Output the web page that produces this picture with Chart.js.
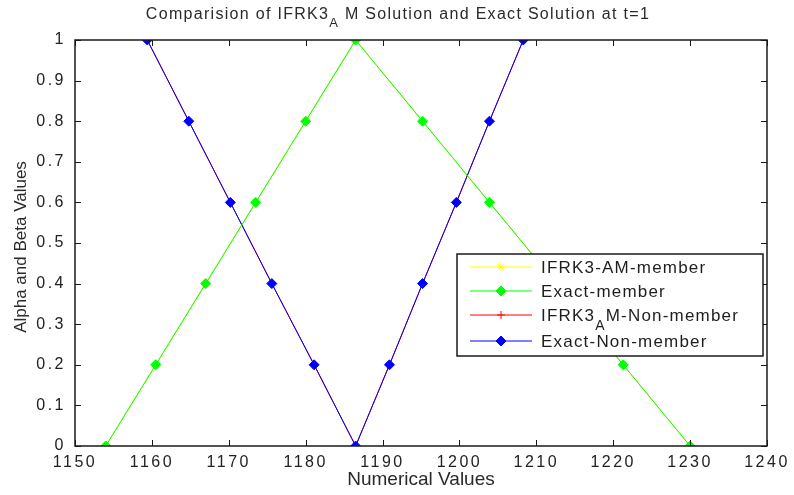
<!DOCTYPE html>
<html>
<head>
<meta charset="utf-8">
<script src="https://cdn.jsdelivr.net/npm/chart.js@4/dist/chart.umd.min.js"></script>
<style>
  html, body { margin: 0; padding: 0; background: #fff; }
</style>
</head>
<body>
<canvas id="chart" width="794" height="495"></canvas>
<script>
// text ('_X' marks a subscript X)
const titleText = 'Comparision of IFRK3_A M Solution and Exact Solution at t=1';
const xTitle = 'Numerical Values';
const yTitle = 'Alpha and Beta Values';
const seriesNames = ['IFRK3-AM-member', 'Exact-member', 'IFRK3_AM-Non-member', 'Exact-Non-member'];

// tick labels
const xTicks = [1150, 1160, 1170, 1180, 1190, 1200, 1210, 1220, 1230, 1240];
const yTicks = [0, 0.1, 0.2, 0.3, 0.4, 0.5, 0.6, 0.7, 0.8, 0.9, 1];

// member functions (IFRK3 results lie under the exact ones)
const memberX = [1154, 1160.5, 1167, 1173.5, 1180, 1186.5, 1195.2, 1203.9, 1212.6, 1221.3, 1230];
const memberY = [0, 0.2, 0.4, 0.6, 0.8, 1, 0.8, 0.6, 0.4, 0.2, 0];
const nonMemberX = [1159.4, 1164.8, 1170.2, 1175.6, 1181.1, 1186.5, 1190.9, 1195.2, 1199.6, 1203.9, 1208.3];
const nonMemberY = [1, 0.8, 0.6, 0.4, 0.2, 0, 0.2, 0.4, 0.6, 0.8, 1];

const seriesColors = ['#ffff00', '#00ff00', '#ff0000', '#0000ff'];
const seriesMarkers = ['star', 'rectRot', 'cross', 'rectRot'];
const FONT = "'Liberation Sans', Arial, sans-serif";
const NARROW = "'Liberation Sans Narrow', 'Liberation Sans', Arial, sans-serif";

function toPoints(xs, ys) {
    return xs.map((x, i) => ({ x: x, y: ys[i] }));
}

function richParts(s) {
    const out = [];
    s.split('_').forEach((p, i) => {
        if (i === 0) {
            if (p) out.push({ t: p, sub: false });
        } else {
            out.push({ t: p[0], sub: true });
            if (p.length > 1) out.push({ t: p.slice(1), sub: false });
        }
    });
    return out;
}

function drawRich(ctx, s, x, y, size, family, align) {
    const parts = richParts(s);
    const subSize = Math.round(size * 0.8);
    let w = 0;
    parts.forEach(p => {
        ctx.font = (p.sub ? subSize : size) + 'px ' + family;
        p.w = ctx.measureText(p.t).width;
        w += p.w;
    });
    let cx = align === 'center' ? x - w / 2 : x;
    ctx.textAlign = 'left';
    ctx.textBaseline = 'alphabetic';
    parts.forEach(p => {
        ctx.font = (p.sub ? subSize : size) + 'px ' + family;
        ctx.fillText(p.t, cx, p.sub ? y + size * 0.5 : y);
        cx += p.w;
    });
}

const datasets = seriesNames.map((name, i) => ({
    label: name,
    data: i < 2 ? toPoints(memberX, memberY) : toPoints(nonMemberX, nonMemberY),
    borderColor: seriesColors[i],
    backgroundColor: seriesColors[i],
    borderWidth: 1,
    pointStyle: seriesMarkers[i],
    pointRadius: seriesMarkers[i] === 'rectRot' ? 5 : 4,
    pointBorderWidth: 1,
    tension: 0,
    order: i % 2 === 0 ? 1 : 0
}));

const matlabLook = {
    id: 'matlabLook',
    beforeDraw(chart) {
        chart.ctx.letterSpacing = '2.5px';
    },
    afterDatasetsDraw(chart) {
        const ctx = chart.ctx;
        const a = chart.chartArea;
        const xs = chart.scales.x, ys = chart.scales.y;
        ctx.save();
        ctx.letterSpacing = '0px';
        ctx.strokeStyle = '#1a1a1a';
        ctx.lineWidth = 1.5;
        ctx.strokeRect(a.left, a.top, a.right - a.left, a.bottom - a.top);
        ctx.lineWidth = 1;
        ctx.beginPath();
        xTicks.forEach(v => {
            const px = Math.round(xs.getPixelForValue(v)) + 0.5;
            ctx.moveTo(px, a.bottom); ctx.lineTo(px, a.bottom - 6);
            ctx.moveTo(px, a.top); ctx.lineTo(px, a.top + 6);
        });
        yTicks.forEach(v => {
            const py = Math.round(ys.getPixelForValue(v)) + 0.5;
            ctx.moveTo(a.left, py); ctx.lineTo(a.left + 6, py);
            ctx.moveTo(a.right, py); ctx.lineTo(a.right - 6, py);
        });
        ctx.stroke();

        // legend box
        const bx = a.right - 310, by = a.top + 214, bw = 306, bh = 102;
        ctx.fillStyle = '#fff';
        ctx.fillRect(bx, by, bw, bh);
        ctx.strokeStyle = '#1a1a1a';
        ctx.lineWidth = 1.5;
        ctx.strokeRect(bx, by, bw, bh);
        const rowY = [13, 37, 61, 87];
        chart.data.datasets.forEach((ds, i) => {
            const y = by + rowY[i];
            ctx.strokeStyle = ds.borderColor;
            ctx.fillStyle = ds.backgroundColor;
            ctx.lineWidth = 1;
            ctx.beginPath();
            ctx.moveTo(bx + 13, y); ctx.lineTo(bx + 75, y);
            ctx.stroke();
            Chart.helpers.drawPoint(ctx, { pointStyle: ds.pointStyle, radius: ds.pointRadius, rotation: 0, borderWidth: 1 }, bx + 44, y);
            ctx.fillStyle = '#1e1e1e';
            ctx.letterSpacing = '1.2px';
            drawRich(ctx, ds.label, bx + 84, y + 6, 17, FONT, 'left');
            ctx.letterSpacing = '0px';
        });
        ctx.restore();
    },
    afterDraw(chart) {
        const ctx = chart.ctx;
        const a = chart.chartArea;
        ctx.save();
        ctx.fillStyle = '#2a2a2a';
        ctx.letterSpacing = '1.3px';
        drawRich(ctx, titleText, chart.width / 2 + 1, 19, 16, FONT, 'center');
        ctx.letterSpacing = '0px';
        ctx.textAlign = 'center';
        ctx.textBaseline = 'middle';
        ctx.font = '19px ' + NARROW;
        ctx.fillText(xTitle, (a.left + a.right) / 2, 480);
        ctx.font = '17px ' + NARROW;
        ctx.translate(21, (a.top + a.bottom) / 2 + 4);
        ctx.rotate(-Math.PI / 2);
        ctx.fillText(yTitle, 0, 0);
        ctx.restore();
    }
};

new Chart(document.getElementById('chart').getContext('2d'), {
    type: 'line',
    data: { datasets: datasets },
    options: {
        responsive: false,
        devicePixelRatio: 1,
        animation: false,
        layout: { padding: { left: 0, right: 27, top: 40, bottom: 0 } },
        plugins: { legend: { display: false }, title: { display: false }, tooltip: { enabled: false } },
        scales: {
            x: {
                type: 'linear',
                min: 1150,
                max: 1240,
                afterBuildTicks: scale => { scale.ticks = xTicks.map(v => ({ value: v })); },
                afterFit: scale => { scale.height = 49; },
                grid: { display: false, drawTicks: false },
                border: { display: false },
                ticks: { color: '#222', font: { family: FONT, size: 16 }, padding: 7, maxRotation: 0, autoSkip: false,
                    callback: v => String(v) }
            },
            y: {
                type: 'linear',
                min: 0,
                max: 1,
                afterBuildTicks: scale => { scale.ticks = yTicks.map(v => ({ value: v })); },
                afterFit: scale => { scale.width = 75; },
                grid: { display: false, drawTicks: false },
                border: { display: false },
                ticks: { color: '#222', font: { family: FONT, size: 16 }, padding: 9, autoSkip: false,
                    callback: v => String(Number(v.toFixed(1))) }
            }
        }
    },
    plugins: [matlabLook]
});
</script>
</body>
</html>
